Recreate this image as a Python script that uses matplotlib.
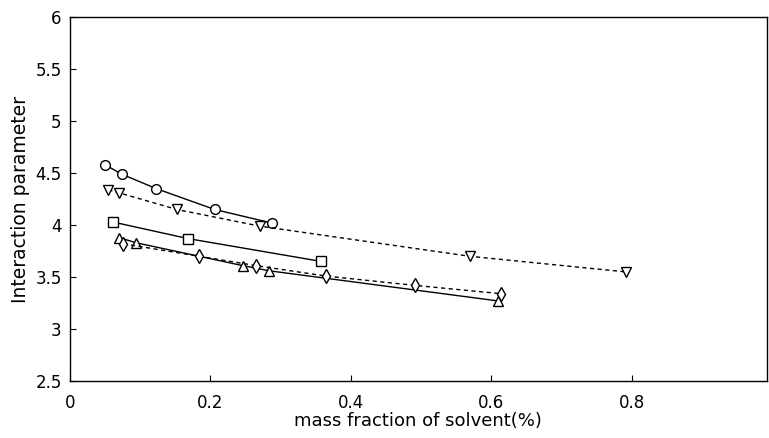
import matplotlib.pyplot as plt

# values
circle_x = [0.050, 0.0735, 0.123, 0.206, 0.287]
circle_y = [4.58, 4.49, 4.35, 4.15, 4.02]

tri_down_x = [0.0546, 0.070, 0.152, 0.270, 0.569, 0.791]
tri_down_y = [4.34, 4.31, 4.15, 3.99, 3.70, 3.55]

square_x = [0.0607, 0.168, 0.358]
square_y = [4.03, 3.87, 3.65]

tri_up_x = [0.070, 0.094, 0.246, 0.284, 0.610]
tri_up_y = [3.88, 3.83, 3.61, 3.56, 3.27]

diamond_x = [0.076, 0.184, 0.265, 0.364, 0.491, 0.614]
diamond_y = [3.82, 3.70, 3.61, 3.51, 3.42, 3.34]

x_ticks = [0, 0.2, 0.4, 0.6, 0.8]
x_labels = ['0', '0.2', '0.4', '0.6', '0.8']
y_ticks = [2.5, 3, 3.5, 4, 4.5, 5, 5.5, 6]
y_labels = ['2.5', '3', '3.5', '4', '4.5', '5', '5.5', '6']

plt.rcParams['font.family'] = ['DejaVu Sans']

fig = plt.figure(figsize=(7.69, 4.38), dpi=100)
ax = fig.add_axes([0.091, 0.130, 0.906, 0.831])

common = dict(color='black', markerfacecolor='white', markeredgecolor='black',
              markersize=7, linewidth=1.0, markeredgewidth=1.0)

ax.plot(circle_x, circle_y, linestyle='-', marker='o', **common)
ax.plot(tri_down_x, tri_down_y, linestyle=(0, (3, 2.5)), marker='v', **common)
ax.plot(square_x, square_y, linestyle='-', marker='s', **common)
ax.plot(tri_up_x, tri_up_y, linestyle='-', marker='^', **common)
ax.plot(diamond_x, diamond_y, linestyle=(0, (3, 2.5)), marker='d', **common)

ax.set_xlim(0, 0.992)
ax.set_ylim(2.5, 6)
ax.set_xticks(x_ticks)
ax.set_xticklabels(x_labels)
ax.set_yticks(y_ticks)
ax.set_yticklabels(y_labels)
ax.tick_params(direction='in', length=4, width=0.8, labelsize=12,
               top=False, right=False)
ax.tick_params(axis='x', pad=9)
ax.tick_params(axis='y', pad=6)

for s in ax.spines.values():
    s.set_linewidth(1.0)

ax.set_xlabel('mass fraction of solvent(%)', fontsize=13, labelpad=0)
ax.set_ylabel('Interaction parameter', fontsize=13.5, labelpad=4)

plt.savefig('out.png', dpi=100)
